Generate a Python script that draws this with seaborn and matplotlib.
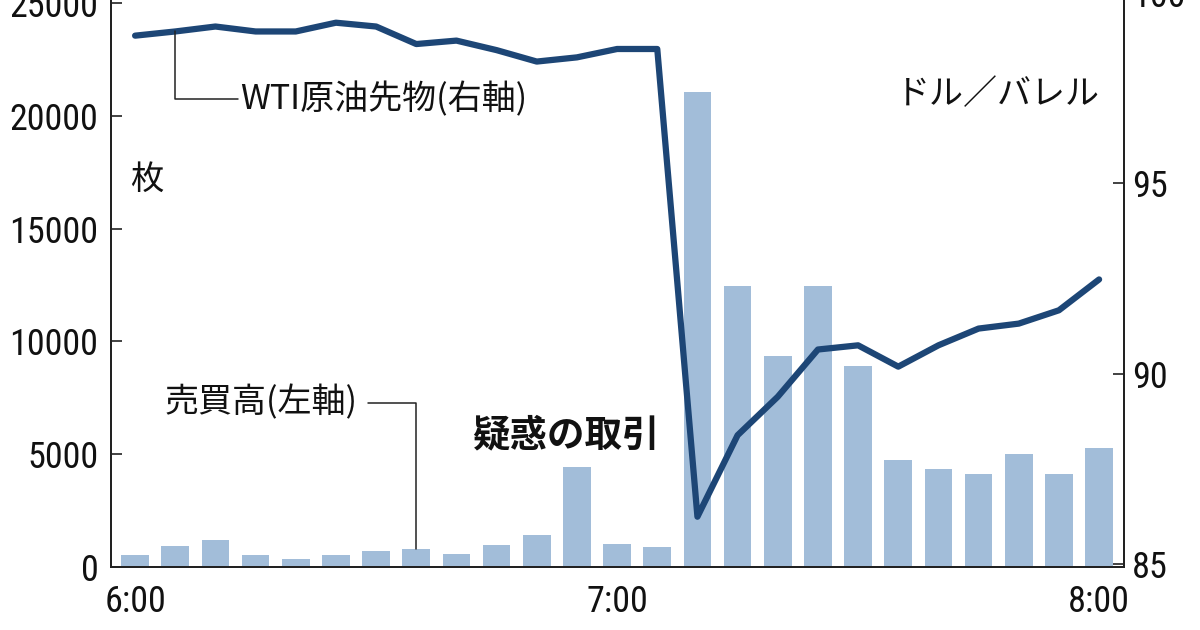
import matplotlib
matplotlib.use("Agg")
import numpy as np
import pandas as pd
import seaborn as sns
import matplotlib.pyplot as plt
from matplotlib import font_manager

# 5-minute bars, 6:00 - 8:00
times = ["6:00", "6:05", "6:10", "6:15", "6:20", "6:25", "6:30", "6:35", "6:40",
         "6:45", "6:50", "6:55", "7:00", "7:05", "7:10", "7:15", "7:20", "7:25",
         "7:30", "7:35", "7:40", "7:45", "7:50", "7:55", "8:00"]
volume = [520, 950, 1210, 520, 340, 520, 690, 780, 580, 960, 1420, 4430, 1000,
          890, 21050, 12450, 9370, 12450, 8930, 4760, 4330, 4140, 5010, 4110, 5280]
wti = [98.88, 98.99, 99.12, 98.99, 98.99, 99.22, 99.12, 98.66, 98.75, 98.50,
       98.20, 98.31, 98.53, 98.53, 86.25, 88.39, 89.40, 90.64, 90.75, 90.19,
       90.75, 91.19, 91.32, 91.67, 92.48]
tick_times = ["6:00", "7:00", "8:00"]
left_ticks = [0, 5000, 10000, 15000, 20000, 25000]
right_ticks = [85, 90, 95, 100]

sns.set_theme(style="white")
jp = "Noto Sans CJK JP"
plt.rcParams["font.family"] = [jp, "DejaVu Sans"]


def narrow_font():
    # look for a condensed / narrow regular face for the numbers
    skip = ("bold", "italic", "oblique", "light", "semi", "extra", "medium",
            "thin", "black", "heavy")
    found = []
    for f in font_manager.fontManager.ttflist:
        fn = f.fname.lower().split("/")[-1]
        if ("condensed" in fn or "narrow" in fn) and not any(k in fn for k in skip):
            found.append(f.fname)
    for key in ("liberationsansnarrow", "robotocondensed", "notosans-condensed",
                "opensans_condensed", "opensans-condensed", "dejavusanscondensed"):
        for p in found:
            if key in p.lower().replace(" ", "").replace("_", "").replace("-", "") \
                    or key in p.lower():
                return p
    return found[0] if found else None


path = narrow_font()
if path:
    num_prop = font_manager.FontProperties(fname=path, size=26)
else:
    num_prop = font_manager.FontProperties(family="DejaVu Sans", size=22)

bar_color = "#a2bdd9"
line_color = "#1d4676"
ink = "#222222"

df = pd.DataFrame({"time": times, "volume": volume, "wti": wti})
df["pos"] = np.arange(len(df))

W, H = 1200, 630
fig = plt.figure(figsize=(12, 6.3), dpi=100)
ax = fig.add_axes([111 / W, 63 / H, 1013 / W, 574 / H])
sns.barplot(data=df, x="time", y="volume", color=bar_color, saturation=1,
            width=0.69, linewidth=0, ax=ax)
ax2 = ax.twinx()
sns.lineplot(data=df, x="pos", y="wti", color=line_color, linewidth=4.5,
             solid_capstyle="round", ax=ax2)

ax.set_xlim(-0.6, 24.62)
ax.set_ylim(0, 25443)
ax2.set_ylim(84.93, 100.0)
ax.set_yticks(left_ticks)
ax.set_yticklabels([str(v) for v in left_ticks], fontproperties=num_prop)
ax2.set_yticks(right_ticks)
ax2.set_yticklabels([str(v) for v in right_ticks], fontproperties=num_prop)
ax.set_xticks([times.index(t) for t in tick_times])
ax.set_xticklabels(tick_times, fontproperties=num_prop)
for a in (ax, ax2):
    a.set_xlabel("")
    a.set_ylabel("")
    a.spines["top"].set_visible(False)
    for s in ("left", "right", "bottom"):
        a.spines[s].set_color(ink)
        a.spines[s].set_linewidth(1.4)
ax.tick_params(axis="y", left=True, direction="in", length=8, width=1.2,
               color=ink, pad=9, labelcolor="#111111")
ax2.tick_params(axis="y", right=True, direction="in", length=8, width=1.2,
                color=ink, pad=6, labelcolor="#111111")
ax.tick_params(axis="x", length=0, pad=12, labelcolor="#111111")

# leader lines
ax2.plot([1, 1, 2.56], [wti[1], 97.21, 97.21], color=ink, lw=1.1)
ax.plot([5.8, 7, 7], [7270, 7270, volume[7]], color=ink, lw=1.1)

fig.text(240 / W, 1 - 100 / H, "WTI原油先物(右軸)", fontsize=24.5, va="center",
         ha="left", color="#111111")
fig.text(1100 / W, 1 - 95 / H, "ドル／バレル", fontsize=24.5, va="center",
         ha="right", color="#111111")
fig.text(147 / W, 1 - 179 / H, "枚", fontsize=24, va="center", ha="center",
         color="#111111")
fig.text(165 / W, 1 - 403 / H, "売買高(左軸)", fontsize=24.5, va="center",
         ha="left", color="#111111")
fig.text(472 / W, 1 - 435 / H, "疑惑の取引", fontsize=27, fontweight="bold",
         va="center", ha="left", color="#111111")

fig.savefig("out.png", dpi=100, facecolor="white")
